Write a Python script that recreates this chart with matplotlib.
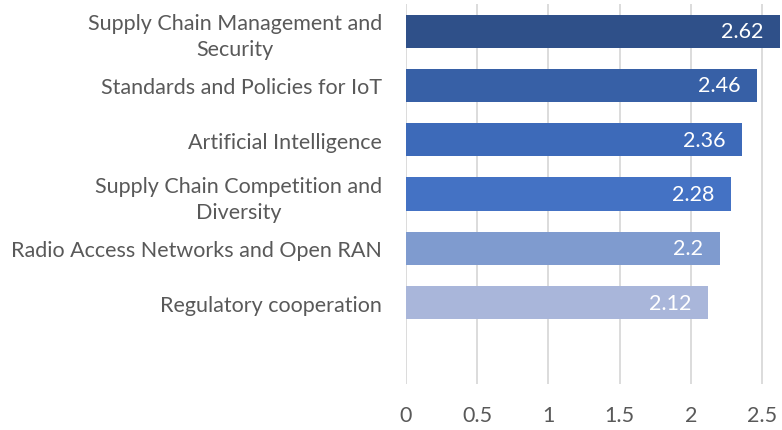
import matplotlib.pyplot as plt

## Data
categories = ["Supply Chain Management and\nSecurity",
              "Standards and Policies for IoT",
              "Artificial Intelligence",
              "Supply Chain Competition and\nDiversity",
              "Radio Access Networks and Open RAN",
              "Regulatory cooperation"]
values = [2.62, 2.46, 2.36, 2.28, 2.2, 2.12]
value_labels = ["2.62", "2.46", "2.36", "2.28", "2.2", "2.12"]
bar_colors = ["#2F5089", "#3760A6", "#3D6AB9", "#4472C4", "#7F9BCF", "#A9B6DA"]
xticks = [0, 0.5, 1, 1.5, 2, 2.5]
xtick_labels = ["0", "0.5", "1", "1.5", "2", "2.5"]

plt.rcParams['font.family'] = ['Lato', 'DejaVu Sans']
text_color = "#595959"

fig = plt.figure(figsize=(7.82, 4.31), dpi=100)
ax = fig.add_axes([0.5188, 0.1067, 0.4799, 0.8817])

pos = list(range(len(categories)))
ax.barh(pos, values, height=0.61, color=bar_colors, zorder=3)

for p, v, lab in zip(pos, values, value_labels):
    ax.annotate(lab, (v, p), xytext=(-12, 0), textcoords="offset points",
                ha="right", va="center", color="white", fontsize=15.5, zorder=4)

ax.set_xlim(0, 2.63)
ax.set_ylim(6.5, -0.5)
ax.set_xticks(xticks)
ax.set_xticklabels(xtick_labels, fontsize=15.5, color=text_color)
ax.set_yticks(pos)
ax.set_yticklabels(categories, fontsize=15.5, color=text_color)
ax.tick_params(axis="both", length=0)
ax.tick_params(axis="x", pad=15)
ax.tick_params(axis="y", pad=17)

# center-aligned multi-line labels
for t in ax.get_yticklabels():
    t.set_multialignment("center")
    t.set_linespacing(1.35)

ax.grid(axis="x", color="#D9D9D9", linewidth=1.3, zorder=0)
for s in ax.spines.values():
    s.set_visible(False)

fig.savefig("out.png", dpi=100)
